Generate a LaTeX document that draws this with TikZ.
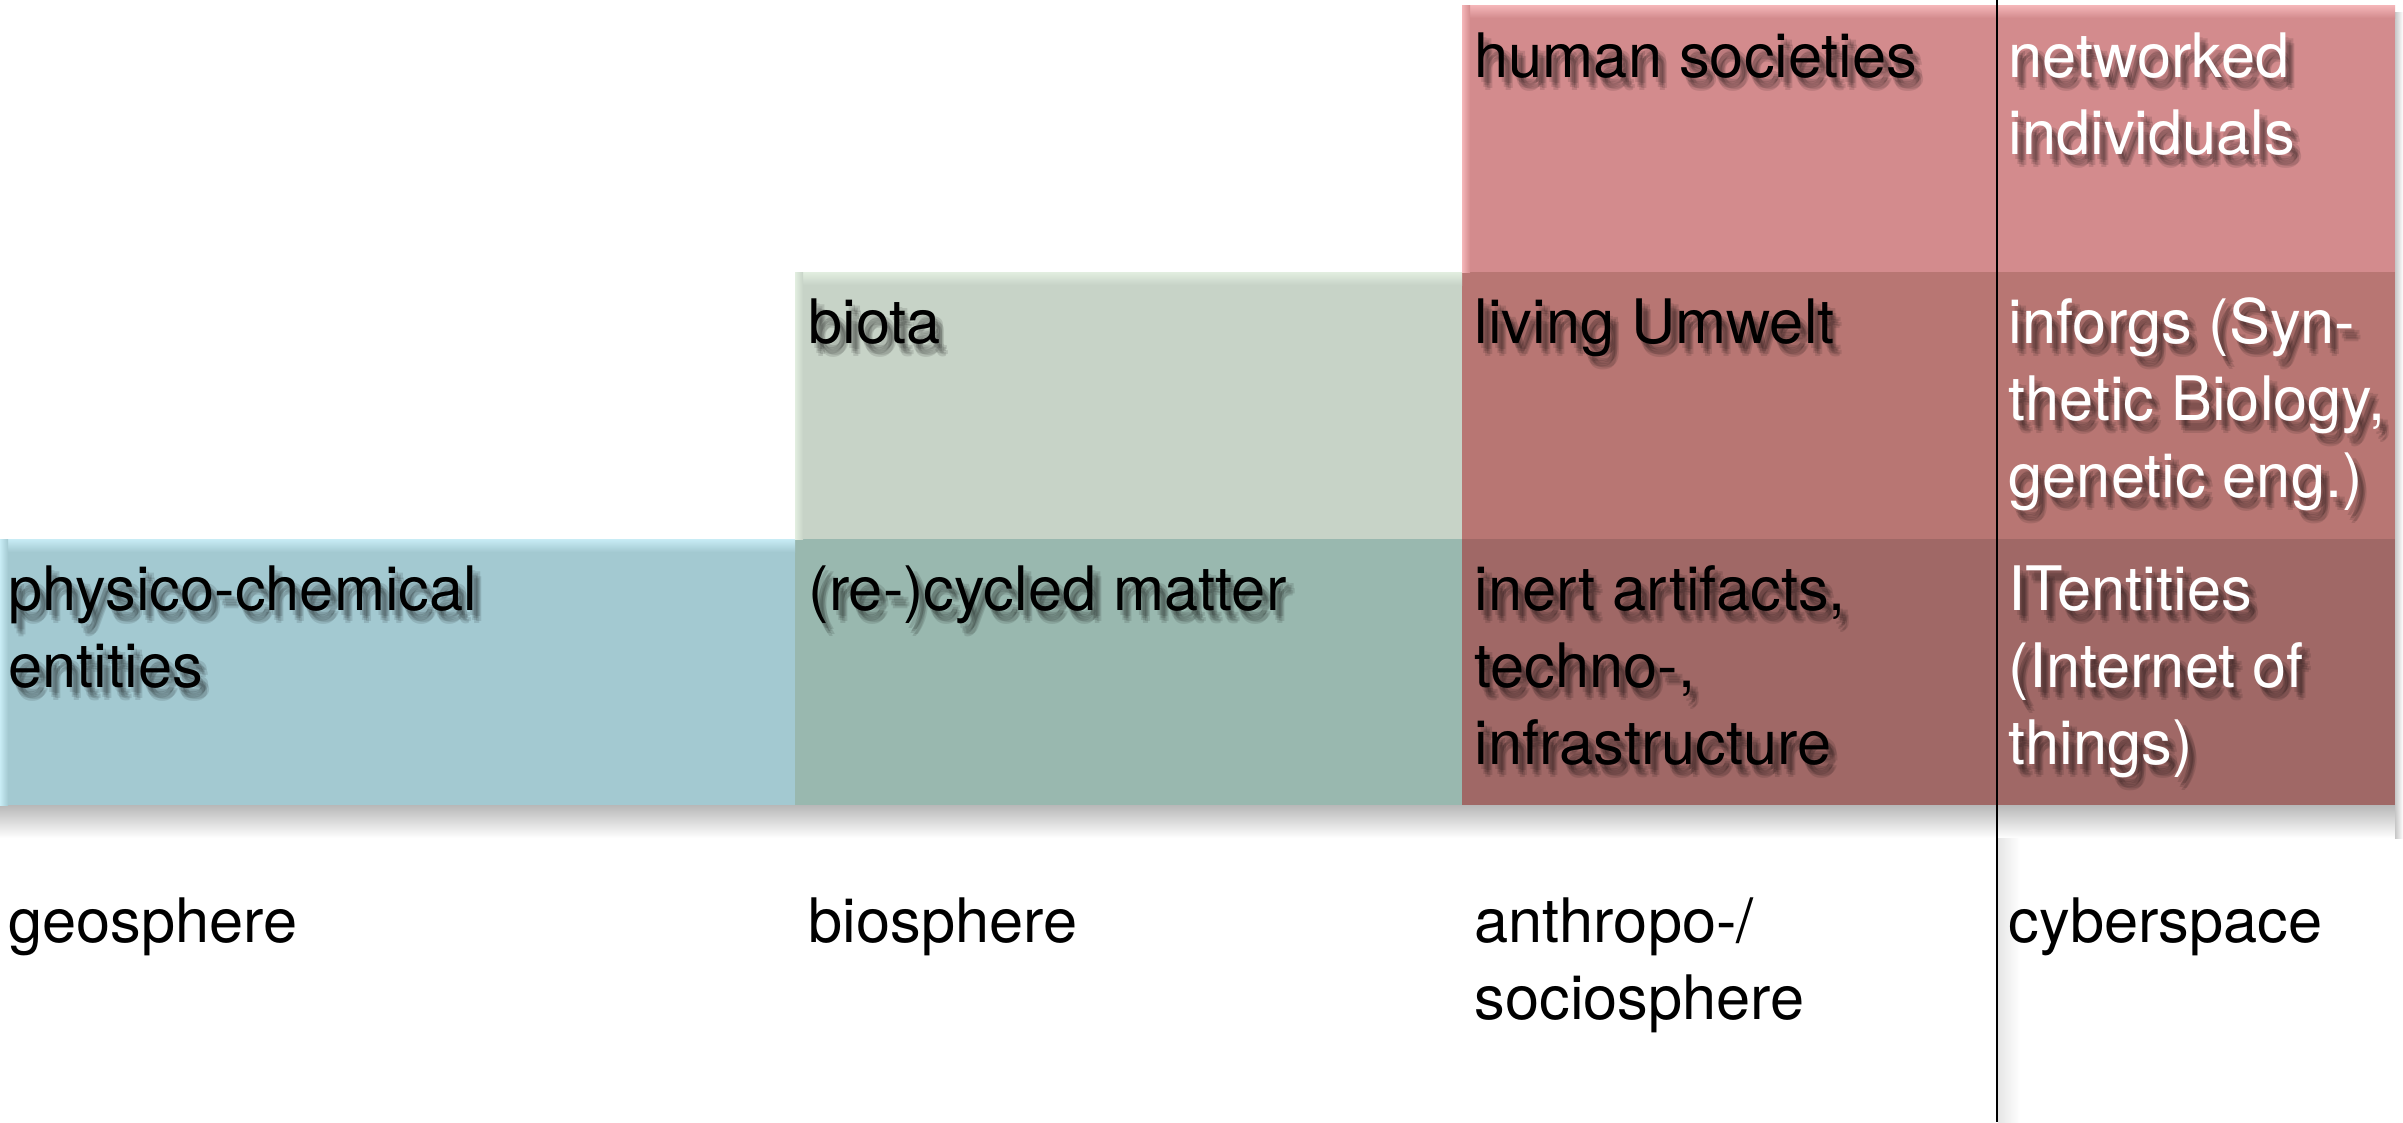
\documentclass[tikz,border=0pt]{standalone}
\usepackage{fontspec}
\setmainfont{TeX Gyre Heros}
\definecolor{geoblue}{HTML}{A3C9D1}
\definecolor{geoblueHi}{HTML}{C8ECF5}
\definecolor{biotop}{HTML}{C7D3C7}
\definecolor{biotopHi}{HTML}{E2EEE0}
\definecolor{biobot}{HTML}{99B8AF}
\definecolor{redtop}{HTML}{D38B8D}
\definecolor{redtopHi}{HTML}{F5B6B9}
\definecolor{redmid}{HTML}{B87673}
\definecolor{redbot}{HTML}{A06866}
\newcommand\celltext[5]{%
  \foreach \dx/\dy in {3/5,6/8,8/6,5/10,9/11,7/13}{%
    \node[txt, text=black, text opacity=0.11] at (#2+\dx,#3+\dy) {#5};
  }%
  \node[txt, text=#4] (#1) at (#2,#3) {#5};%
}
\begin{document}
\begin{tikzpicture}[x=0.3pt,y=-0.3pt,
  txt/.style={inner sep=0pt, anchor=base west, font=\fontsize{18.4pt}{23.1pt}\selectfont},
  lbl/.style={txt, text=black},
  cell/.style={draw=none}]
\useasboundingbox (0,0) rectangle (2403,1122);
\fill[white] (0,0) rectangle (2403,1122);
% shadows of the boxes
\shade[top color=black!28, bottom color=white] (0,805) rectangle (2395,838);
\shade[left color=black!22, right color=white] (2395,12) rectangle (2403,838);
% shadow of the vertical line
\shade[left color=black!10, right color=white] (1998,838) rectangle (2020,1122);
% cells
\fill[cell, geoblue] (0,539) rectangle (795,805);
\fill[cell, biotop] (795,272) rectangle (1462,539);
\fill[cell, biobot] (795,539) rectangle (1462,805);
\fill[cell, redtop] (1462,5) rectangle (2395,272);
\fill[cell, redmid] (1462,272) rectangle (2395,539);
\fill[cell, redbot] (1462,539) rectangle (2395,805);
% highlights on upper edges
\shade[top color=geoblueHi, bottom color=geoblue] (0,539) rectangle (795,552);
\shade[left color=geoblueHi, right color=geoblue] (0,539) rectangle (8,805);
\shade[top color=biotopHi, bottom color=biotop] (795,272) rectangle (1462,285);
\shade[left color=biotopHi, right color=biotop] (795,272) rectangle (803,539);
\shade[top color=redtopHi, bottom color=redtop] (1462,5) rectangle (2395,18);
\shade[left color=redtopHi, right color=redtop] (1462,5) rectangle (1470,272);
% texts in cells
\celltext{t11}{1474}{77}{black}{human societies}
\celltext{t12}{2008}{77}{white}{\vtop{\hbox{networked}\hbox{individuals}}}
\celltext{t21}{808}{343}{black}{biota}
\celltext{t22}{1474}{343}{black}{living Umwelt}
\celltext{t23}{2008}{343}{white}{\vtop{\hbox{inforgs (Syn-}\hbox{thetic Biology,}\hbox{genetic eng.)}}}
\celltext{t31}{8}{610}{black}{\vtop{\hbox{physico-chemical}\hbox{entities}}}
\celltext{t32}{808}{610}{black}{(re-)cycled matter}
\celltext{t33}{1474}{610}{black}{\vtop{\hbox{inert artifacts,}\hbox{techno-,}\hbox{infrastructure}}}
\celltext{t34}{2008}{610}{white}{\vtop{\hbox{ITentities}\hbox{(Internet of}\hbox{things)}}}
% vertical line
\coordinate (ltop) at (1997,0);
\coordinate (lbot) at (1997,1122);
\draw[black, line width=0.6pt] (ltop) -- (lbot);
% bottom labels
\node[lbl] (geo) at (8,942) {geosphere};
\node[lbl] (bio) at (808,942) {biosphere};
\node[lbl] (anthro) at (1474,942) {\vtop{\hbox{anthropo-/}\hbox{sociosphere}}};
\node[lbl] (cyber) at (2008,942) {cyberspace};
\end{tikzpicture}
\end{document}
